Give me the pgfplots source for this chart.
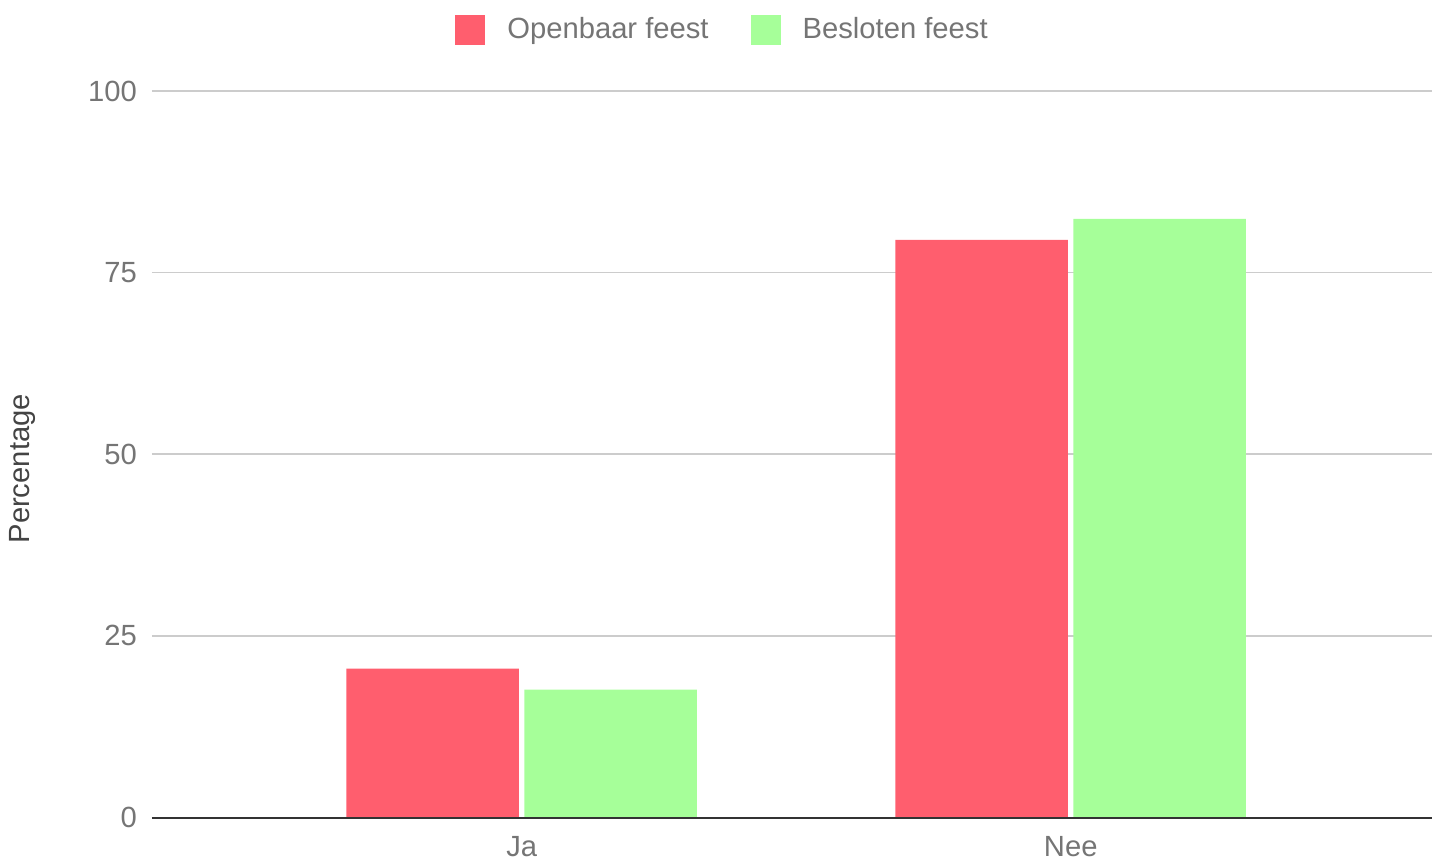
\documentclass[border=0pt]{standalone}
\usepackage{fontspec}
\setmainfont{Liberation Sans}
\usepackage{pgfplots}
\pgfplotsset{compat=1.18}
\definecolor{redbar}{HTML}{FF5E6E}
\definecolor{greenbar}{HTML}{A6FF99}
\definecolor{ticktext}{HTML}{757575}
\definecolor{labeltext}{HTML}{444444}
\definecolor{gridc}{HTML}{CCCCCC}
\definecolor{axisc}{HTML}{333333}
\begin{document}
\fontsize{14.6bp}{17bp}\selectfont
\begin{tikzpicture}
\begin{axis}[
  scale only axis, width=640bp, height=363.25bp,
  xmin=-0.6734, xmax=1.658, ymin=0, ymax=100,
  ybar=2.75bp, bar width=86.25bp,
  axis line style={draw=none},
  major tick length=0pt,
  xtick={0,1}, xticklabels={Ja,Nee},
  ytick={0,25,50,75,100}, yticklabels={0,25,50,75,100},
  /pgf/number format/assume math mode=true,
  ymajorgrids, grid style={gridc, line width=0.75bp},
  ticklabel style={color=ticktext},
  yticklabel style={anchor=east, inner sep=0pt, xshift=-7.4bp},
  xticklabel style={anchor=base, inner sep=0pt, yshift=-19.6bp},
  ylabel={Percentage},
  ylabel style={at={(axis description cs:-0.1008,0.48)}, anchor=center, color=labeltext},
  legend columns=2,
  legend cell align=left,
  legend style={at={(axis description cs:0.4465,1.084)}, anchor=center, draw=none, fill=none,
    font=\color{ticktext}, inner sep=0pt,
    /tikz/every odd column/.append style={column sep=9bp},
    /tikz/every even column/.append style={column sep=19bp}},
  legend image code/.code={\fill[#1] (0bp,-7.5bp) rectangle (15bp,7.5bp);},
  clip=false,
]
\addplot[fill=redbar, draw=none] coordinates {(0,20.5) (1,79.5)};
\addplot[fill=greenbar, draw=none] coordinates {(0,17.6) (1,82.4)};
\legend{Openbaar feest, Besloten feest}
\draw[axisc, line width=1bp] (rel axis cs:0,0) -- (rel axis cs:1,0);
\end{axis}
\pgfresetboundingbox
\path[use as bounding box] ([xshift=-76bp,yshift=-21.25bp]current axis.south west) rectangle ([yshift=45.5bp]current axis.north east);
\end{tikzpicture}
\end{document}
